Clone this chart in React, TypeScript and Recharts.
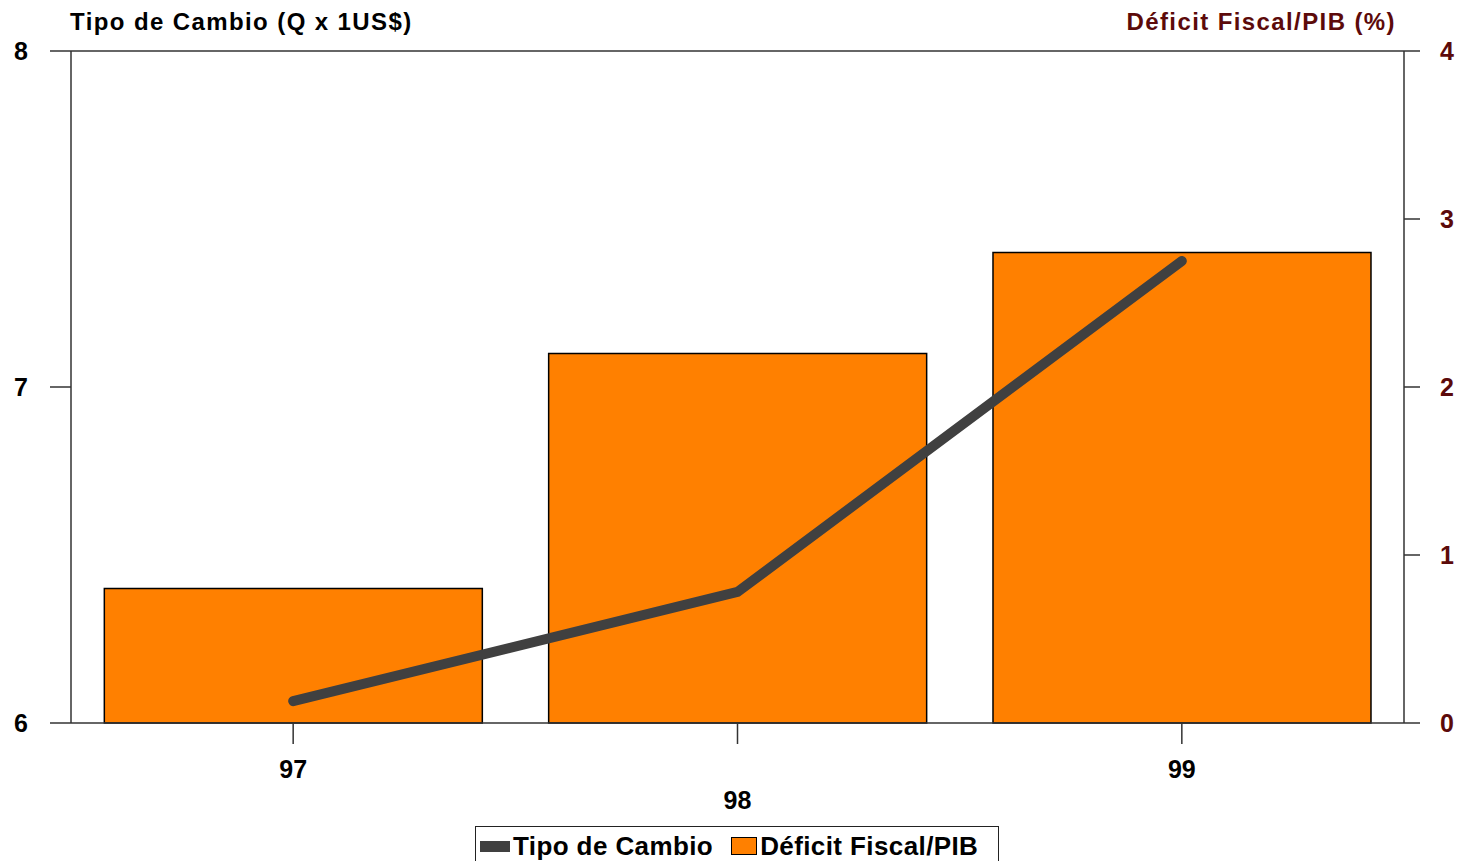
import { ComposedChart, Bar, Line, XAxis, YAxis, Legend, ReferenceLine } from "recharts"

const years = ["97", "98", "99"]
const tipoCambio = [6.065, 6.39, 7.375]
const deficitFiscal = [0.8, 2.2, 2.8]

const leftTicks = [6, 7, 8]
const rightTicks = [0, 1, 2, 3, 4]

const FONT = "'Liberation Sans', Arial, sans-serif"
const MAROON = "#5c0a0a"

const data = years.map((y, i) => ({ year: y, tipo: tipoCambio[i], deficit: deficitFiscal[i] }))

// labels alternate rows, like the original (98 sits one row lower)
const YearTick = ({ x, y, payload, index }: any) => (
  <text
    x={x}
    y={y}
    dy={index % 2 === 1 ? 59 : 28}
    textAnchor="middle"
    fill="#000"
    fontFamily={FONT}
    fontWeight={700}
    fontSize={25}
  >
    {payload.value}
  </text>
)

const LegendBox = () => (
  <div
    style={{
      border: "1.5px solid #222",
      background: "#fff",
      width: 524,
      height: 40,
      boxSizing: "border-box",
      display: "flex",
      alignItems: "center",
      paddingLeft: 4,
      fontFamily: FONT,
      fontWeight: 700,
      fontSize: 26,
      letterSpacing: 0.4,
      color: "#000",
    }}
  >
    <span style={{ display: "inline-block", width: 30, height: 11, background: "#404040", marginRight: 3 }} />
    <span style={{ marginRight: 18 }}>Tipo de Cambio</span>
    <span style={{ display: "inline-block", width: 24, height: 16, background: "#ff8000", border: "1.5px solid #000", marginRight: 3 }} />
    <span>Déficit Fiscal/PIB</span>
  </div>
)

const titleStyle = {
  position: "absolute" as const,
  top: 8,
  fontFamily: FONT,
  fontWeight: 700,
  fontSize: 24,
  letterSpacing: 1.4,
}

export default function App() {
  return (
    <div style={{ position: "fixed", left: 0, top: 0, width: 1464, height: 861, background: "#fff" }}>
      <div style={{ ...titleStyle, left: 70, color: "#000" }}>Tipo de Cambio (Q x 1US$)</div>
      <div style={{ ...titleStyle, right: 68, color: MAROON }}>Déficit Fiscal/PIB (%)</div>
      <ComposedChart
        width={1464}
        height={861}
        data={data}
        margin={{ top: 51, right: 0, bottom: 8, left: 0 }}
        barCategoryGap="7.5%"
      >
        <XAxis
          dataKey="year"
          height={90}
          axisLine={{ stroke: "#333", strokeWidth: 1.5 }}
          tickLine={{ stroke: "#333", strokeWidth: 1.5 }}
          tickSize={21}
          tickMargin={6}
          tick={<YearTick />}
        />
        <YAxis
          yAxisId="left"
          orientation="left"
          width={71}
          domain={[6, 8]}
          ticks={leftTicks}
          axisLine={{ stroke: "#333", strokeWidth: 1.5 }}
          tickLine={{ stroke: "#333", strokeWidth: 1.5 }}
          tickSize={21}
          tickMargin={22}
          tick={{ fill: "#000", fontFamily: FONT, fontWeight: 700, fontSize: 25 }}
        />
        <YAxis
          yAxisId="right"
          orientation="right"
          width={60}
          domain={[0, 4]}
          ticks={rightTicks}
          axisLine={{ stroke: "#333", strokeWidth: 1.5 }}
          tickLine={{ stroke: "#333", strokeWidth: 1.5 }}
          tickSize={16}
          tickMargin={20}
          tick={{ fill: MAROON, fontFamily: FONT, fontWeight: 700, fontSize: 25 }}
        />
        <ReferenceLine yAxisId="left" y={8} stroke="#333" strokeWidth={1.5} />
        <Bar
          yAxisId="right"
          dataKey="deficit"
          name="Déficit Fiscal/PIB"
          fill="#ff8000"
          stroke="#000"
          strokeWidth={1.5}
          isAnimationActive={false}
        />
        <Line
          yAxisId="left"
          dataKey="tipo"
          name="Tipo de Cambio"
          type="linear"
          stroke="#404040"
          strokeWidth={10}
          strokeLinecap="round"
          dot={false}
          activeDot={false}
          isAnimationActive={false}
        />
        <Legend
          content={() => <LegendBox />}
          wrapperStyle={{ position: "absolute", left: 475, top: 826, width: 524, bottom: "auto" }}
        />
      </ComposedChart>
    </div>
  )
}
